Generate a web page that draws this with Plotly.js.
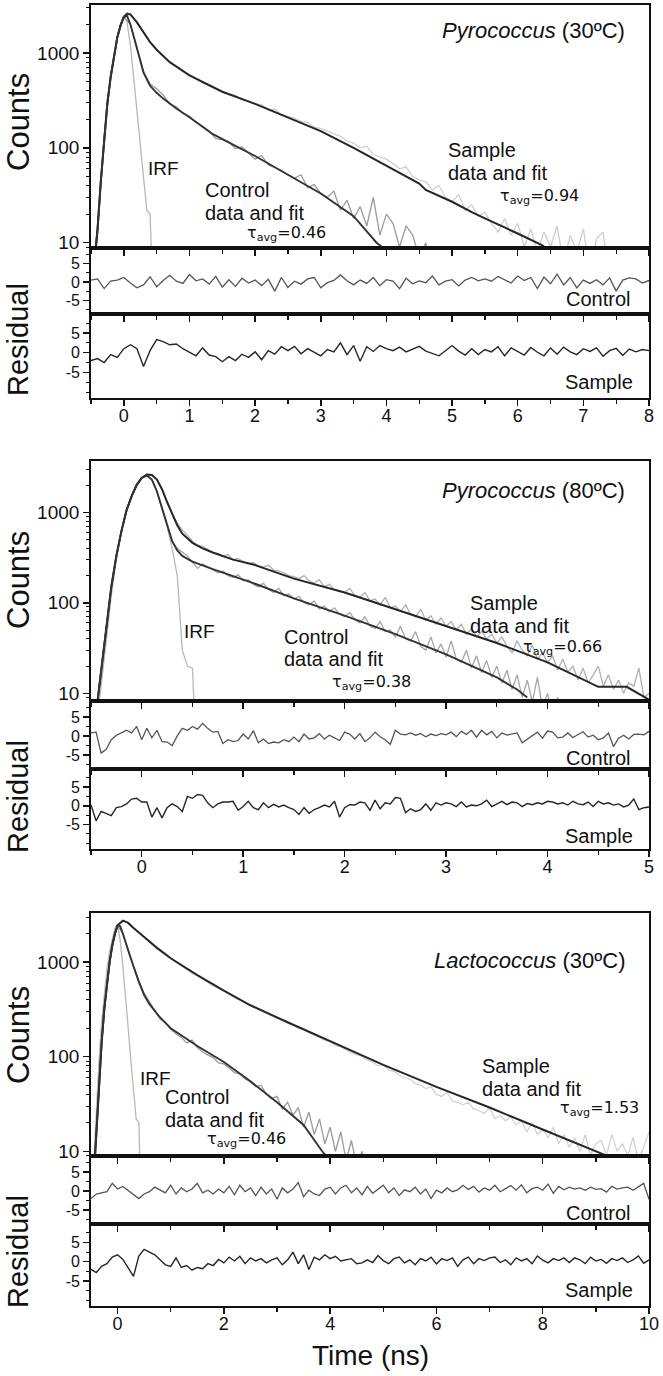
<!DOCTYPE html>
<html><head><meta charset="utf-8">
<script src="https://cdn.plot.ly/plotly-3.0.1.min.js"></script>
<style>body{margin:0;background:#fff}#chart{width:663px;height:1376px}</style>
</head><body><div id="chart"></div>
<script>
// ---------- DATA ----------
// Panel 1: Pyrococcus (30ºC), time grid for data: start -0.5 ns, step 0.1 ns
const p1DataX0 = -0.5, p1DataDx = 0.1;
const p1IrfX0 = -0.5, p1IrfDx = 0.05;
const p1Irf = [2,5,12,40,110,280,600,1000,1500,2000,2450,2100,1200,550,250,110,45,22,20,2];
const p1CtrlData = [3,14,130,560,1450,2400,2000,1100,640,470,
  420,360,290,270,230,215,185,170,150,125,
  122,115,98,102,88,76,83,66,62,58,
  52,48,52,38,41,33,30,35,22,28,
  18,24,15,30,12,20,16,9,15,12,
  7,10,5,3,3,3,3,3,3,3,
  3,3,3,3,3,3,3,3,3,3,
  3,3,3,3,3,3,3,3,3,3,
  3,3,3,3,3,3];
const p1SampData = [3,14,130,560,1450,2400,2550,2100,1650,1300,
  1080,920,800,720,640,590,540,480,450,420,
  400,370,360,320,310,290,285,250,255,225,
  215,205,190,185,165,160,150,140,132,118,
  112,100,104,85,80,76,68,60,63,50,
  46,44,36,40,30,27,32,22,25,19,
  21,16,13,18,12,16,9,14,8,13,
  9,15,6,12,8,14,5,11,13,4,
  3,3,3,3,3,3];
const p1CtrlFitX = [-0.45,-0.4,-0.35,-0.3,-0.25,-0.2,-0.15,-0.1,-0.05,0,0.05,0.1,0.15,0.2,0.25,0.3,0.4,0.5,0.6,0.8,1,1.35,1.7,2,2.5,3,3.5,3.85,4.0];
const p1CtrlFitY = [6,14,45,130,300,560,950,1450,1950,2400,2450,2000,1500,1100,800,620,450,380,330,260,210,140,105,82,52,33,19,10,8.3];
const p1SampFitX = [-0.45,-0.4,-0.35,-0.3,-0.25,-0.2,-0.15,-0.1,-0.05,0,0.05,0.1,0.2,0.3,0.4,0.5,0.7,1,1.5,2,2.5,3,3.5,4,4.5,4.6,4.8,5,5.3,5.5,6,6.3,6.4];
const p1SampFitY = [6,14,45,130,300,560,950,1450,1950,2400,2600,2550,2100,1650,1300,1080,800,580,390,290,210,150,100,65,42,36,31,27,21,18,12.5,10,9.2];
const p1CtrlRes = [0.5,0.8,-1.8,0.2,0.5,1.2,-0.3,-1.6,-0.8,1.4,
  -1.3,0.4,1.8,0.2,-0.4,2.0,0.3,0.8,-0.6,1.5,
  -1.4,0.6,-1.2,1.0,-0.3,0.5,-1.0,0.7,-2.5,1.2,
  -1.5,0.2,-0.6,0.8,1.2,-1.6,-0.2,0.4,1.9,0.3,
  -0.8,0.5,-0.4,1.2,-1.0,0.6,0.2,-1.8,1.0,-0.5,
  0.3,-0.2,1.6,-0.8,0.2,0.6,-1.1,0.5,1.2,0.3,
  0.8,0.2,1.5,0.6,-0.3,1.6,0.4,1.2,-1.8,1.3,
  -0.5,2.1,-0.8,1.2,-1.6,0.5,-0.4,0.6,-0.8,1.1,
  -2.5,0.5,1.1,0.8,-0.3,0.4];
const p1SampRes = [-2.0,-1.5,-2.5,-0.5,-1.2,1.0,2.0,1.0,-3.5,0.5,
  3.3,2.8,2.0,2.2,1.0,0.2,-0.8,1.2,-0.6,-1.0,
  -2.3,-1.0,-2.0,-0.4,-1.2,0.2,-1.8,0.5,-0.4,1.5,
  0.5,1.6,-0.3,1.0,0.2,-0.8,0.8,0.2,2.5,-0.5,
  1.8,-2.2,1.5,0.3,1.8,1.0,0.5,1.4,0.2,1.0,
  1.6,0.4,-0.2,-0.8,0.5,1.8,0.4,-0.6,1.0,-0.5,
  0.8,0.2,1.5,-0.8,1.2,0.3,-0.6,1.3,0.1,-0.8,
  1.2,-0.4,1.4,0.2,-0.5,1.0,0.3,1.2,-0.9,0.5,
  1.1,-0.7,0.9,0.2,0.8,0.5];

// Panel 2: Pyrococcus (80ºC), data grid start -0.5 ns, step 0.05 ns
const p2DataX0 = -0.5, p2DataDx = 0.05;
const p2IrfX0 = -0.5, p2IrfDx = 0.05;
const p2Irf = [1,4,12,40,120,300,620,1050,1550,2050,2450,2600,2300,1700,1100,700,400,200,30,20,19,1];
const p2CtrlData = [1,6,18,55,150,330,620,1050,1500,2000,
  2400,2600,2300,1700,1100,700,480,400,360,330,
  280,240,270,250,230,215,225,200,190,205,
  175,180,160,150,165,140,130,145,120,125,
  110,118,100,95,105,85,92,80,88,75,
  70,78,65,60,70,55,52,62,48,50,
  42,55,40,38,48,33,30,42,28,35,
  25,38,24,22,30,19,26,17,23,15,
  20,13,18,11,16,9,14,8,15,7,
  10,6,9,5,4,4,4,4,4,4,
  4,4,4,4,4,4,4,4,4,4,4];
const p2SampData = [1,6,18,55,150,330,620,1050,1500,2000,
  2400,2620,2580,2300,1800,1300,950,760,640,560,
  480,430,420,390,360,350,330,340,300,310,
  285,270,280,255,250,260,230,225,215,200,
  195,185,200,175,165,180,150,160,140,135,
  130,145,120,115,130,105,110,95,115,88,
  92,80,95,75,70,85,64,72,58,68,
  55,62,50,58,45,52,42,48,40,45,
  36,42,33,28,38,30,26,34,24,28,
  22,26,18,24,17,20,14,19,13,16,
  20,12,16,11,14,10,13,12,19,9,10];
const p2CtrlFitX = [-0.45,-0.4,-0.35,-0.3,-0.25,-0.2,-0.15,-0.1,-0.05,0,0.05,0.1,0.15,0.2,0.25,0.3,0.35,0.4,0.5,0.7,1.1,1.5,2,2.5,3,3.5,3.7,3.8];
const p2CtrlFitY = [6,18,55,150,330,620,1050,1500,2000,2400,2550,2300,1700,1100,700,480,380,330,285,235,165,112,72,45,27,15,11,9];
const p2SampFitX = [-0.45,-0.4,-0.35,-0.3,-0.25,-0.2,-0.15,-0.1,-0.05,0,0.05,0.1,0.15,0.2,0.25,0.3,0.35,0.4,0.5,0.6,0.7,0.9,1.1,1.5,2,2.5,3,3.5,4,4.42,4.5,4.78,5];
const p2SampFitY = [6,18,55,150,330,620,1050,1500,2000,2400,2620,2580,2300,1800,1300,950,720,580,460,400,360,300,265,185,130,85,55,36,22,13,11.8,11.8,8.5];
const p2CtrlRes = [0.8,1.0,-4.5,-3.5,-1.0,0.2,0.8,1.5,0.8,2.5,
  -1.0,2.0,-0.5,1.5,-1.5,-1.6,-2.5,0,2.0,1.5,
  2.5,1.8,3.3,2.0,1.0,1.2,-2.0,-1.0,-1.5,-1.2,
  0.5,-0.8,1.4,-1.8,-0.8,-2.0,-1.6,-1.8,-1.0,-1.5,
  -0.3,-1.5,0.5,-0.8,-0.5,0.6,-0.8,0.2,-0.5,-1.2,
  1.0,0.5,-0.8,0.6,-1.5,-0.5,1.0,-0.2,-1.0,-2.2,
  1.5,0.5,0.3,0.8,0.2,0.6,-0.2,0.5,0.1,0.6,
  0.3,1.0,-0.2,1.2,0.4,1.5,-0.3,1.5,0.3,1.2,
  -0.5,0.8,0.2,0.6,0.8,-1.8,-0.8,0.2,1.0,-0.6,
  1.3,1.0,-0.5,-0.3,0.8,-0.4,0.3,1.1,-0.3,0.2,
  -1.0,-0.5,0.8,-2.8,-0.6,0.2,-0.8,0.4,0.5,0.3,1.2];
const p2SampRes = [0.2,-4.0,-1.5,-2.0,-2.6,-0.5,-0.2,0.5,1.8,2.0,
  1.0,1.0,-3.0,-0.5,-3.2,-0.5,0.5,-0.2,-1.5,2.5,
  2.0,3.0,2.8,0.8,-0.5,0.5,1.0,1.0,1.2,-1.2,
  -0.2,1.2,-0.5,-1.0,0.8,-0.5,0.4,-0.3,0.2,-0.5,
  -1.0,-2.3,-0.5,-2.0,-1.0,-0.5,0.2,-0.3,1.2,-3.0,
  -0.5,0.3,0.2,1.0,0.8,-1.2,1.5,-0.8,0.8,0.5,
  2.2,2.0,-1.8,-0.8,-1.5,-1.0,0.5,-1.2,0.8,0.2,
  0.8,0.5,-0.2,1.0,-0.3,0.2,0,0.5,1.5,-0.2,
  0.5,1.2,0.3,1.0,0.8,-0.2,0.6,0.3,0.8,0.5,
  1.2,1.0,0.5,0.8,0.2,1.2,0.5,0.3,1.0,-0.2,
  1.2,0.5,0.8,0.2,0.5,-0.3,0.2,1.8,-1.0,-0.5,-0.3];

// Panel 3: Lactococcus (30ºC), data grid start -0.5 ns, step 0.1 ns
const p3DataX0 = -0.5, p3DataDx = 0.1;
const p3IrfX0 = -0.5, p3IrfDx = 0.05;
const p3Irf = [2,8,30,90,230,480,850,1300,1800,2300,2500,1700,900,450,200,90,45,22,20,2];
const p3CtrlData = [2,15,140,600,1500,2450,2000,1300,900,640,
  470,380,300,250,230,195,175,160,140,150,
  125,112,104,98,86,84,76,68,66,58,
  54,48,50,40,36,38,28,33,24,29,
  18,26,15,22,12,18,10,16,8,13,
  7,10,5,8,4,4,4,4,4,4,
  4,4,4,4,4,4,4,4,4,4,
  4,4,4,4,4,4,4,4,4,4,
  4,4,4,4,4,4,4,4,4,4,
  4,4,4,4,4,4,4,4,4,4,
  4,4,4,4,4,4];
const p3SampData = [2,15,140,600,1500,2450,2750,2600,2300,2050,
  1850,1650,1500,1380,1250,1100,1000,900,820,760,
  720,660,610,560,520,500,460,420,400,370,
  350,330,310,290,270,260,245,225,215,200,
  195,180,170,160,150,145,130,128,118,110,
  105,100,92,88,80,82,72,70,64,60,
  58,52,50,46,48,40,38,42,34,33,
  31,33,28,27,25,29,22,24,21,23,
  19,21,16,20,15,17,14,18,12,15,
  11,14,10,15,9,12,13,9,15,10,
  12,9,14,8,11,16];
const p3CtrlFitX = [-0.45,-0.4,-0.35,-0.3,-0.25,-0.2,-0.15,-0.1,-0.05,0,0.05,0.1,0.2,0.3,0.4,0.5,0.6,0.8,1,1.5,2,2.5,3,3.5,3.85,3.95];
const p3CtrlFitY = [5,15,50,140,320,600,1000,1500,2000,2450,2400,2000,1300,900,620,450,360,260,200,130,88,55,33,19,10,8.6];
const p3SampFitX = [-0.45,-0.4,-0.35,-0.3,-0.25,-0.2,-0.15,-0.1,-0.05,0,0.1,0.2,0.3,0.5,0.75,1,1.5,2,2.5,3,3.5,4,5,6,7,8,9,9.2];
const p3SampFitY = [5,15,50,140,320,600,1000,1500,2000,2450,2750,2600,2300,1850,1400,1100,730,500,350,260,195,145,82,48,29,17,10,9];
const p3CtrlRes = [-2.0,-0.8,-0.5,-0.2,2.0,0.5,1.2,0.2,-0.8,-2.0,
  -0.8,-0.2,1.0,0.3,-0.5,1.5,-0.8,0.8,-0.2,0.5,
  2.0,-0.5,0.2,-0.8,0.5,-0.5,1.2,-1.0,1.5,-0.2,
  0.8,-1.2,1.0,-0.8,0.5,-2.2,0.8,-0.5,0.5,2.2,
  -1.5,0.2,-0.8,-1.2,0.5,1.0,-0.8,0.8,1.5,-0.5,
  0.8,-1.0,1.2,-0.6,0.5,1.5,-0.5,0.8,-1.2,0.3,
  -0.2,1.0,-0.8,0.5,-2.0,0.2,-0.5,0.8,-0.2,0.3,
  1.5,0.4,1.2,-0.3,0.8,0.2,1.5,-0.2,0.6,1.4,
  0.2,1.6,-0.5,0.6,1.0,0.2,1.8,-0.6,1.2,0.3,
  1.0,0.5,0.8,0.2,1.0,0.4,0.6,-0.3,1.2,0.5,
  0.8,1.0,0.2,1.2,2.0,-2.2];
const p3SampRes = [-2.0,-2.8,-1.2,-0.5,1.2,1.8,0.6,-1.5,-3.8,1.5,
  3.2,2.5,1.8,0.5,-0.8,-1.2,1.0,-1.5,-1.0,-2.2,
  -1.5,-1.8,-0.5,-1.0,0.6,-0.3,1.2,0.2,1.4,-0.5,
  1.0,0.2,0.8,-0.3,0.5,1.0,-0.8,0.5,2.5,-0.5,
  1.8,-2.0,1.2,0.5,1.8,0.8,1.4,0.2,0.6,0.8,
  -0.5,-0.3,0.5,-0.2,1.6,0.3,-0.5,0.8,1.2,-0.3,
  0.5,-0.8,0.8,0.2,1.2,-0.6,0.8,0.3,1.0,-1.2,
  0.5,1.2,-0.5,0.8,0.3,1.0,1.2,-0.2,0.5,-0.8,
  1.0,0.2,0.8,-0.5,1.5,0.4,-0.3,0.8,0.3,1.0,
  -0.2,1.0,0.5,-0.5,1.2,0.2,0.6,-0.4,0.8,0.3,
  1.0,-0.2,0.5,1.5,-0.4,0.5];

// Text
const panelTitles = ["<i>Pyrococcus</i> (30ºC)", "<i>Pyrococcus</i> (80ºC)", "<i>Lactococcus</i> (30ºC)"];
const tauCtrl = ["0.46", "0.38", "0.46"];
const tauSamp = ["0.94", "0.66", "1.53"];
const resTickVals = [-5, 0, 5];
const resTickText = ["-5", "0", "5"];
const countTickVals = [10, 100, 1000];
const countTickText = ["10", "100", "1000"];

// ---------- LAYOUT / STYLE ----------
const W = 663, H = 1376;
const L = 91, R = 649;
const FONT = "Liberation Sans, Arial, sans-serif";
const panels = [
  {top:5, mainBot:248, ctrlBot:314, sampBot:398, xr:[-0.5,8], dtick:1, minor:0.5, yr:[0.944,3.505],
   irf:{x0:p1IrfX0,dx:p1IrfDx,y:p1Irf}, dx0:p1DataX0, ddx:p1DataDx, ctrl:p1CtrlData, samp:p1SampData,
   cfx:p1CtrlFitX, cfy:p1CtrlFitY, sfx:p1SampFitX, sfy:p1SampFitY, cres:p1CtrlRes, sres:p1SampRes,
   sampCol:'#cfcfcf', ctrlCol:'#9a9a9a'},
  {top:461, mainBot:701, ctrlBot:769, sampBot:849, xr:[-0.5,5], dtick:1, minor:0.5, yr:[0.915,3.567],
   irf:{x0:p2IrfX0,dx:p2IrfDx,y:p2Irf}, dx0:p2DataX0, ddx:p2DataDx, ctrl:p2CtrlData, samp:p2SampData,
   cfx:p2CtrlFitX, cfy:p2CtrlFitY, sfx:p2SampFitX, sfy:p2SampFitY, cres:p2CtrlRes, sres:p2SampRes,
   sampCol:'#b0b0b0', ctrlCol:'#a6a6a6'},
  {top:913, mainBot:1156, ctrlBot:1224, sampBot:1306, xr:[-0.5,10], dtick:2, minor:1, yr:[0.95,3.52],
   irf:{x0:p3IrfX0,dx:p3IrfDx,y:p3Irf}, dx0:p3DataX0, ddx:p3DataDx, ctrl:p3CtrlData, samp:p3SampData,
   cfx:p3CtrlFitX, cfy:p3CtrlFitY, sfx:p3SampFitX, sfy:p3SampFitY, cres:p3CtrlRes, sres:p3SampRes,
   sampCol:'#d2d2d2', ctrlCol:'#9a9a9a'}
];
const CTRL_R = [-8.7, 9.2], SAMP_R = [-11.5, 9.8];

function fx(x){ return x / W; }
function fy(y){ return 1 - y / H; }
function aid(n, a){ return n === 1 ? a : a + n; }
function akey(n, a){ return n === 1 ? a + 'axis' : a + 'axis' + n; }

const layout = {
  width: W, height: H, margin:{l:0,r:0,t:0,b:0},
  paper_bgcolor:'#fff', plot_bgcolor:'#fff', showlegend:false, hovermode:false,
  font:{family:FONT, color:'#111'}, annotations:[]
};
const traces = [];

const lineStyle = {showline:true, linecolor:'#111', linewidth:1.8, mirror:true, showgrid:false, zeroline:false,
  ticks:'outside', tickcolor:'#111', tickwidth:1.5};

panels.forEach((p, i) => {
  const nMain = 3*i+1, nCtrl = 3*i+2, nSamp = 3*i+3;
  const rows = [[nMain, p.top, p.mainBot], [nCtrl, p.mainBot, p.ctrlBot], [nSamp, p.ctrlBot, p.sampBot]];
  rows.forEach(([n, t, b], k) => {
    layout[akey(n,'x')] = Object.assign({}, lineStyle, {
      domain:[fx(L), fx(R)], range:p.xr, anchor:aid(n,'y'), dtick:p.dtick, tick0:0, ticklen:6,
      minor:{dtick:p.minor, ticks:'outside', ticklen:4, tickcolor:'#111', tickwidth:1.3},
      showticklabels: k === 2, ticklabelstandoff:-5, tickfont:{family:FONT, size:18, color:'#111'}
    });
    const ya = Object.assign({}, lineStyle, {domain:[fy(b), fy(t)], anchor:aid(n,'x'), ticklen:6});
    if (k === 0) {
      Object.assign(ya, {type:'log', range:p.yr, tickvals:countTickVals, ticktext:countTickText,
        minor:{dtick:'D1', ticks:'outside', ticklen:3, tickcolor:'#111', tickwidth:1},
        tickfont:{family:FONT, size:19, color:'#111'}});
    } else {
      Object.assign(ya, {range: k === 1 ? CTRL_R : SAMP_R, tickvals:resTickVals, ticktext:resTickText,
        minor:{dtick:2.5, tick0:0, ticks:'outside', ticklen:3, tickcolor:'#111', tickwidth:1},
        tickfont:{family:FONT, size:16, color:'#111'}});
    }
    layout[akey(n,'y')] = ya;
  });
  const xm = aid(nMain,'x'), ym = aid(nMain,'y');
  traces.push({type:'scatter', mode:'lines', x0:p.irf.x0, dx:p.irf.dx, y:p.irf.y, xaxis:xm, yaxis:ym,
    line:{color:'#b8b8b8', width:1.3}});
  traces.push({type:'scatter', mode:'lines', x0:p.dx0, dx:p.ddx, y:p.samp, xaxis:xm, yaxis:ym,
    line:{color:p.sampCol, width:1.3}});
  traces.push({type:'scatter', mode:'lines', x0:p.dx0, dx:p.ddx, y:p.ctrl, xaxis:xm, yaxis:ym,
    line:{color:p.ctrlCol, width:1.3}});
  traces.push({type:'scatter', mode:'lines', x:p.sfx, y:p.sfy, xaxis:xm, yaxis:ym,
    line:{color:'#262626', width:2}});
  traces.push({type:'scatter', mode:'lines', x:p.cfx, y:p.cfy, xaxis:xm, yaxis:ym,
    line:{color:'#333', width:1.9}});
  const resX0 = p.dx0, resDx = p.ddx;
  traces.push({type:'scatter', mode:'lines', x0:resX0, dx:resDx, y:p.cres, xaxis:aid(nCtrl,'x'), yaxis:aid(nCtrl,'y'),
    line:{color:'#555', width:1.3}});
  traces.push({type:'scatter', mode:'lines', x0:resX0, dx:resDx, y:p.sres, xaxis:aid(nSamp,'x'), yaxis:aid(nSamp,'y'),
    line:{color:'#262626', width:1.4}});
});

function ann(text, x, y, opts){
  layout.annotations.push(Object.assign({text:text, x:fx(x), y:fy(y), xref:'paper', yref:'paper',
    showarrow:false, xanchor:'left', yanchor:'middle', font:{family:FONT, size:20, color:'#111'}}, opts||{}));
}
const TAU = {family:'DejaVu Sans, sans-serif', size:16, color:'#111'};
const textPos = [
  {title:31, irf:[146,168], ctrl:[203,190,213], tc:[245,233], samp:[446,150,173], ts:[498,197], rc:299, rs:382, counts:122, resid:340},
  {title:490, irf:[182,632], ctrl:[282,637,659], tc:[330,683], samp:[468,603,626], ts:[521,648], rc:758, rs:836, counts:580, resid:797},
  {title:960, irf:[138,1078], ctrl:[163,1097,1120], tc:[205,1139], samp:[480,1066,1089], ts:[558,1108], rc:1213, rs:1290, counts:1035, resid:1252}
];
textPos.forEach((t, i) => {
  ann(panelTitles[i], 627, t.title, {xanchor:'right', font:{family:FONT, size:22, color:'#111'}});
  ann('IRF', t.irf[0], t.irf[1], {font:{family:FONT, size:19, color:'#111'}});
  ann('Control', t.ctrl[0], t.ctrl[1]);
  ann('data and fit', t.ctrl[0], t.ctrl[2]);
  ann('τ<sub>avg</sub>=' + tauCtrl[i], t.tc[0], t.tc[1], {font:TAU});
  ann('Sample', t.samp[0], t.samp[1]);
  ann('data and fit', t.samp[0], t.samp[2]);
  ann('τ<sub>avg</sub>=' + tauSamp[i], t.ts[0], t.ts[1], {font:TAU});
  ann('Control', 632, t.rc, {xanchor:'right', font:{family:FONT, size:20, color:'#111'}});
  ann('Sample', 635, t.rs, {xanchor:'right', font:{family:FONT, size:20, color:'#111'}});
  ann('Counts', 18, t.counts, {xanchor:'center', textangle:-90, font:{family:FONT, size:31, color:'#111'}});
  ann('Residual', 18, t.resid, {xanchor:'center', textangle:-90, font:{family:FONT, size:29, color:'#111'}});
});
ann('Time (ns)', 370, 1355, {xanchor:'center', font:{family:FONT, size:28, color:'#111'}});

Plotly.newPlot('chart', traces, layout, {staticPlot:true, displayModeBar:false});
</script>
</body></html>
